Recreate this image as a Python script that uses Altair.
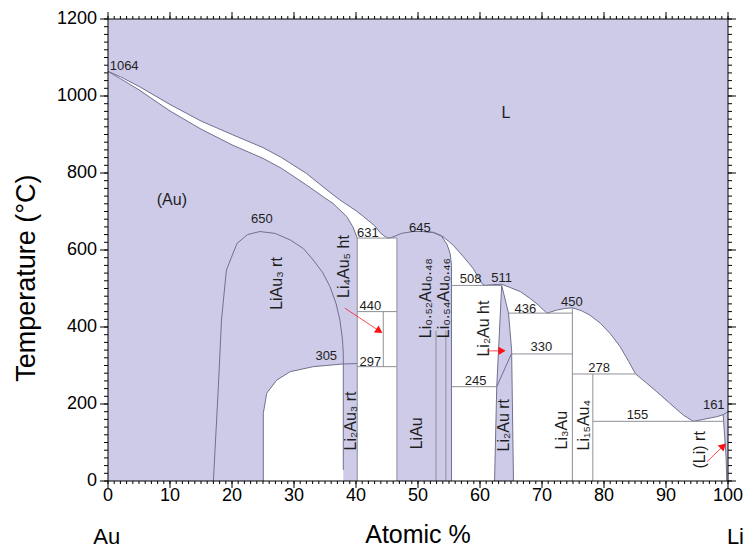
import math
import altair as alt
import pandas as pd

# ---------------------------------------------------------------
# Au-Li phase diagram (x = atomic % Li, T = temperature in °C)
# ---------------------------------------------------------------

# Liquidus, split into the pieces bounding each two-phase field
LIQ_AU = [(0, 1064), (2, 1050), (5, 1025), (10, 978), (15, 935), (20, 900), (25, 866),
          (28, 840), (32, 799), (35, 760), (37.4, 730), (40, 702), (41.2, 687),
          (43, 663), (43.9, 645), (44.6, 636), (45.1, 631)]
LIQ_LIAU_L = [(45.1, 631), (45.6, 632), (46.6, 638), (47.3, 643), (49.2, 648), (50.9, 648)]
LIQ_LIAU_R = [(50.9, 648), (52.5, 646), (53.8, 637), (55.0, 622), (55.7, 612), (57.3, 583),
              (58.9, 552), (60.3, 513), (60.8, 508)]
LIQ_LI2AU = [(60.8, 508), (62.0, 510), (63.5, 511)]
LIQ_LI3AU = [(63.5, 511), (64.8, 503), (66.5, 492), (68.1, 474), (69.4, 457), (70.8, 436),
             (72.4, 444), (73.7, 448), (74.9, 450)]
LIQ_LI = [(74.9, 450), (76.4, 442), (77.7, 431), (79.4, 410), (81.0, 383), (82.6, 349),
          (84.0, 310), (85.1, 278), (86.9, 254), (88.5, 232), (90.6, 202), (92.8, 171),
          (94.4, 155), (96.0, 160), (98.2, 167), (99.2, 172)]
LIQ_END = [(99.2, 172), (100, 180)]

# Solidus / solvus curves
SOL_AU = [(0, 1064), (2, 1045), (5, 1016), (10, 961), (15, 914), (20, 873), (25, 838),
          (28, 812), (32, 769), (35, 735), (36.3, 721), (38.5, 687), (39.5, 660), (40.2, 631)]
SOL_LIAU_R = [(50.9, 648), (52.5, 645), (53.8, 636), (54.7, 614), (55.2, 590),
              (55.4, 560), (55.4, 0)]
LIAU3_DOME = [(17.0, 0), (17.8, 245), (18.3, 418), (19.1, 548), (20.8, 617), (22.5, 640),
              (24.5, 648), (27.0, 643), (29.4, 626), (31.5, 604), (33.1, 574), (34.6, 542),
              (35.8, 505), (36.8, 460), (37.4, 418), (37.8, 370), (37.95, 332), (37.95, 29)]
SOLVUS_305 = [(25.05, 0), (25.05, 176), (25.6, 228), (27.2, 262), (29.4, 284), (33.1, 297),
              (37.95, 304), (40.2, 305)]
LI2AU_L = [(63.5, 508), (62.7, 245), (62.35, 0)]
LI2AU_R = [(63.5, 508), (64.6, 436), (65.1, 340), (65.4, 0)]
LI2AU_TRANS = [(65.05, 330), (62.7, 245)]
LI_SOLVUS = [(99.2, 172), (99.3, 155), (99.7, 60), (99.8, 0)]

# Invariant (horizontal) lines and line compounds (vertical)
STRAIGHT = {
    "h631": [(40.2, 631), (46.6, 631)],
    "h440": [(40.2, 440), (46.6, 440)],
    "h297": [(40.2, 297), (46.6, 297)],
    "v_li4au5": [(44.4, 440), (44.4, 297)],
    "v_402": [(40.2, 631), (40.2, 0)],
    "v_466": [(46.6, 631), (46.6, 0)],
    "v_052": [(52.9, 390), (52.9, 0)],
    "v_054": [(54.5, 390), (54.5, 0)],
    "h508": [(55.4, 508), (63.5, 508)],
    "h245": [(55.4, 245), (62.7, 245)],
    "h436": [(64.6, 436), (74.9, 436)],
    "h330": [(65.05, 330), (74.9, 330)],
    "v_li3au": [(74.9, 450), (74.9, 0)],
    "h278": [(74.9, 278), (85.1, 278)],
    "v_li15au4": [(78.2, 278), (78.2, 0)],
    "h155": [(78.2, 155), (99.3, 155)],
}

# Temperature labels on the diagram
NUM_TEXT = ["1064", "650", "631", "645", "440", "305", "297", "508", "511",
            "436", "450", "330", "245", "278", "155", "161"]
NUM_X = [2.6, 24.8, 41.9, 50.3, 42.3, 35.2, 42.3, 58.5, 63.5,
         67.3, 74.8, 69.9, 59.3, 79.2, 85.4, 97.7]
NUM_T = [1078, 680, 645, 658, 455, 325, 309, 525, 526,
         447, 466, 347, 260, 293, 171, 197]

# Phase-field labels
FIELD_TEXT = ["L", "(Au)"]
FIELD_X = [64.2, 10.3]
FIELD_T = [956, 730]

PHASE_TEXT = ["LiAu₃ rt", "Li₄Au₅ ht", "Li₂Au₃ rt", "LiAu", "Li₀.₅₂Au₀.₄₈", "Li₀.₅₄Au₀.₄₆",
              "Li₂Au ht", "Li₂Au rt", "Li₃Au", "Li₁₅Au₄", "(Li) rt"]
PHASE_X = [27.2, 38.1, 39.2, 49.8, 51.3, 54.2, 60.7, 63.9, 73.3, 76.8, 95.5]
PHASE_T = [513, 557, 156, 124, 475, 475, 396, 145, 132, 145, 81]

# Element names under the composition axis and the axis titles
END_TEXT = ["Au", "Li"]
END_X = [-0.2, 101.2]
END_T = [-145, -145]
X_TITLE, X_TITLE_AT = "Atomic %", (50, -141)
Y_TITLE, Y_TITLE_AT = "Temperature (°C)", (-13.1, 527)

# Pointer arrows: tail (x, T) -> tip (x, T)
ARROW_X0 = [38.2, 61.1, 96.6]
ARROW_T0 = [449, 338, 50]
ARROW_X1 = [44.3, 64.2, 99.7]
ARROW_T1 = [384, 338, 98]

# Axis tick positions
X_MAJOR = list(range(0, 101, 10))
X_MINOR = list(range(0, 101, 1))
T_MAJOR = list(range(0, 1201, 200))
T_MINOR = list(range(0, 1201, 20))

# ---------------------------------------------------------------
PLOT_W, PLOT_H = 620, 462
X_DOMAIN, T_DOMAIN = [0, 100], [0, 1200]
PX_PER_X = PLOT_W / (X_DOMAIN[1] - X_DOMAIN[0])
PX_PER_T = PLOT_H / (T_DOMAIN[1] - T_DOMAIN[0])

LAVENDER = "#cdcbe8"
CURVE = "#6f7190"
INVARIANT = "#8f8f99"
INK = "#1e1e1e"
RED = "#ff1010"
FONT = "Liberation Sans"


def rows(name, pts):
    return [{"id": name, "i": k, "x": x, "T": t} for k, (x, t) in enumerate(pts)]


# White two-phase fields as closed outlines
polygons = {
    "L+(Au)": LIQ_AU + [(46.6, 631), (46.6, 0), (40.2, 0)] + SOL_AU[::-1],
    "LiAu3+Li2Au3": SOLVUS_305[:-1] + [(37.95, 0)],
    "LiAu+Li2Au": SOL_LIAU_R[::-1] + LIQ_LIAU_R[1:] + [(63.5, 508)] + LI2AU_L[1:],
    "Li2Au+Li3Au": LIQ_LI3AU + [(74.9, 0)] + LI2AU_R[::-1],
    "Li3Au+(Li)": LIQ_LI + LI_SOLVUS[1:] + [(74.9, 0)],
}
poly_df = pd.DataFrame([r for k, v in polygons.items() for r in rows(k, v)])

liquidus = LIQ_AU + LIQ_LIAU_L[1:] + LIQ_LIAU_R[1:] + LIQ_LI2AU[1:] + LIQ_LI3AU[1:] + LIQ_LI[1:] + LIQ_END[1:]
curves = {
    "liquidus": liquidus, "sol_au": SOL_AU, "sol_liau": SOL_LIAU_R, "dome": LIAU3_DOME,
    "solvus305": SOLVUS_305, "li2au_l": LI2AU_L, "li2au_r": LI2AU_R,
    "li2au_tr": LI2AU_TRANS, "li_solvus": LI_SOLVUS,
}
curve_df = pd.DataFrame([r for k, v in curves.items() for r in rows(k, v)])
straight_df = pd.DataFrame([r for k, v in STRAIGHT.items() for r in rows(k, v)])

num_df = pd.DataFrame({"text": NUM_TEXT, "x": NUM_X, "T": NUM_T})
field_df = pd.DataFrame({"text": FIELD_TEXT, "x": FIELD_X, "T": FIELD_T})
phase_df = pd.DataFrame({"text": PHASE_TEXT, "x": PHASE_X, "T": PHASE_T})
end_df = pd.DataFrame({"text": END_TEXT + [X_TITLE], "x": END_X + [X_TITLE_AT[0]],
                       "T": END_T + [X_TITLE_AT[1]], "size": [22, 22, 25]})
ytitle_df = pd.DataFrame({"text": [Y_TITLE], "x": [Y_TITLE_AT[0]], "T": [Y_TITLE_AT[1]]})

# arrow shafts and heads (head pulled back a few pixels from the tip)
shaft, heads = [], []
for x0, t0, x1, t1 in zip(ARROW_X0, ARROW_T0, ARROW_X1, ARROW_T1):
    dx = (x1 - x0) * PX_PER_X
    dy = -(t1 - t0) * PX_PER_T
    n = math.hypot(dx, dy)
    ux, uy = dx / n, dy / n
    hx = x1 - 4 * ux / PX_PER_X
    ht = t1 + 4 * uy / PX_PER_T
    shaft.append({"x": x0, "T": t0, "x2": hx, "T2": ht})
    heads.append({"x": hx, "T": ht, "ang": math.degrees(math.atan2(dy, dx)) % 360})
shaft_df = pd.DataFrame(shaft)
head_df = pd.DataFrame(heads)

XS = alt.Scale(domain=X_DOMAIN, nice=False, zero=False)
TS = alt.Scale(domain=T_DOMAIN, nice=False, zero=False)


def xy():
    return {"x": alt.X("x:Q", scale=XS, axis=None), "y": alt.Y("T:Q", scale=TS, axis=None)}


fills = alt.Chart(poly_df).mark_line(fill="white", strokeOpacity=0, clip=True).encode(
    **xy(), detail="id:N", order="i:Q")

curve_lines = alt.Chart(curve_df).mark_line(color=CURVE, strokeWidth=1, clip=True).encode(
    **xy(), detail="id:N", order="i:Q")

straight_lines = alt.Chart(straight_df).mark_line(color=INVARIANT, strokeWidth=1, clip=True).encode(
    **xy(), detail="id:N", order="i:Q")

num_text = alt.Chart(num_df).mark_text(font=FONT, fontSize=13, color=INK,
                                       align="center", baseline="middle").encode(**xy(), text="text:N")
field_text = alt.Chart(field_df).mark_text(font=FONT, fontSize=16, color=INK,
                                           align="center", baseline="middle").encode(**xy(), text="text:N")
phase_text = alt.Chart(phase_df).mark_text(font=FONT, fontSize=16, color=INK, angle=270,
                                           align="center", baseline="middle").encode(**xy(), text="text:N")
end_text = alt.Chart(end_df).mark_text(font=FONT, color="black", align="center",
                                       baseline="middle").encode(
    **xy(), text="text:N", size=alt.Size("size:Q", scale=None))
ytitle_text = alt.Chart(ytitle_df).mark_text(font=FONT, fontSize=27, color="black", angle=270,
                                             align="center", baseline="middle").encode(**xy(), text="text:N")

arrow_shafts = alt.Chart(shaft_df).mark_rule(color=RED, strokeWidth=1, opacity=0.75).encode(
    **xy(), x2="x2:Q", y2="T2:Q")
arrow_heads = alt.Chart(head_df).mark_point(shape="triangle-right", filled=True, color=RED,
                                            size=70, opacity=1).encode(
    **xy(), angle=alt.Angle("ang:Q", scale=None))


# ---- frame: four edges, major/minor ticks, tick labels ----
def xticks(values, at, length):
    """Vertical tick rules at x positions, hanging off the edge T=at."""
    df = pd.DataFrame({"x": values, "T": at, "T2": at})
    return alt.Chart(df).mark_rule(color="black", strokeWidth=1, y2Offset=length).encode(
        **xy(), y2="T2:Q")


def tticks(values, at, length):
    """Horizontal tick rules at T positions, hanging off the edge x=at."""
    df = pd.DataFrame({"T": values, "x": at, "x2": at})
    return alt.Chart(df).mark_rule(color="black", strokeWidth=1, x2Offset=length).encode(
        **xy(), x2="x2:Q")


edges = pd.DataFrame({
    "x": [X_DOMAIN[0], X_DOMAIN[0], X_DOMAIN[0], X_DOMAIN[1]],
    "x2": [X_DOMAIN[1], X_DOMAIN[0], X_DOMAIN[1], X_DOMAIN[1]],
    "T": [T_DOMAIN[0], T_DOMAIN[0], T_DOMAIN[1], T_DOMAIN[0]],
    "T2": [T_DOMAIN[0], T_DOMAIN[1], T_DOMAIN[1], T_DOMAIN[1]],
})
frame_edges = alt.Chart(edges).mark_rule(color="black", strokeWidth=1).encode(
    **xy(), x2="x2:Q", y2="T2:Q")

xlab_df = pd.DataFrame({"x": X_MAJOR, "T": T_DOMAIN[0], "text": [str(v) for v in X_MAJOR]})
tlab_df = pd.DataFrame({"T": T_MAJOR, "x": X_DOMAIN[0], "text": [str(v) for v in T_MAJOR]})
x_labels = alt.Chart(xlab_df).mark_text(font=FONT, fontSize=18, color="black", align="center",
                                        baseline="middle", dy=15).encode(**xy(), text="text:N")
t_labels = alt.Chart(tlab_df).mark_text(font=FONT, fontSize=18, color="black", align="right",
                                        baseline="middle", dx=-11).encode(**xy(), text="text:N")

frame = [
    frame_edges,
    xticks(X_MAJOR, T_DOMAIN[0], 7),
    xticks(X_MINOR, T_DOMAIN[0], 3),
    xticks(X_MAJOR, T_DOMAIN[1], -7),
    xticks(X_MINOR, T_DOMAIN[1], -3),
    tticks(T_MAJOR, X_DOMAIN[0], -8),
    tticks(T_MINOR, X_DOMAIN[0], -4),
    tticks(T_MAJOR, X_DOMAIN[1], 8),
    tticks(T_MINOR, X_DOMAIN[1], 4),
    x_labels, t_labels,
]

chart = alt.layer(
    fills, curve_lines, straight_lines, num_text, field_text, phase_text, end_text, ytitle_text,
    arrow_shafts, arrow_heads, *frame,
).properties(
    width=PLOT_W, height=PLOT_H,
    padding={"left": 108, "top": 19, "right": 16, "bottom": 69},
    autosize=alt.AutoSizeParams(type="none"),
    background="white",
).configure_view(fill=LAVENDER, strokeWidth=0)

chart.save("out.html", embed_options={"renderer": "svg", "actions": False})
